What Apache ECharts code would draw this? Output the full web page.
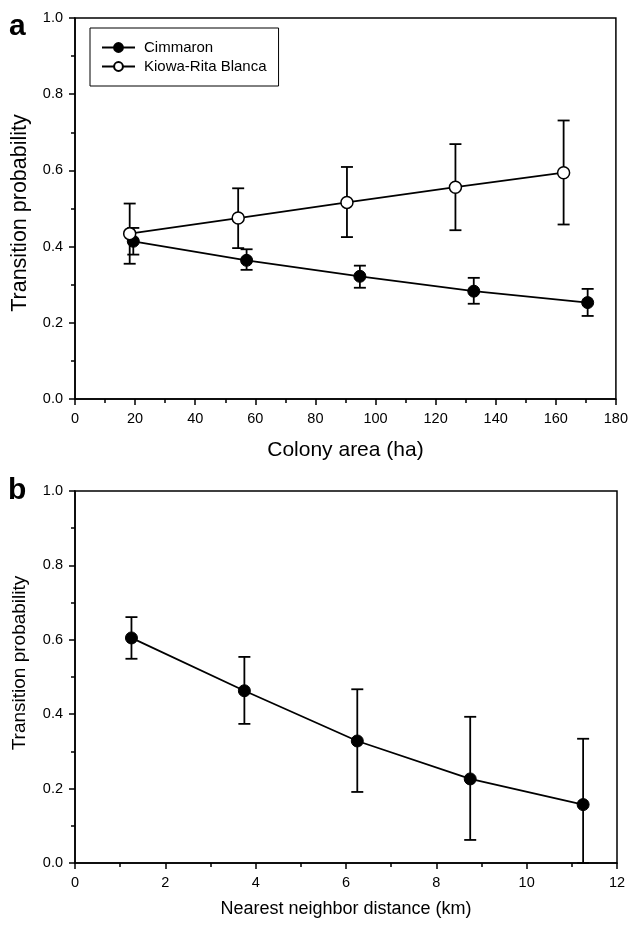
<!DOCTYPE html>
<html>
<head>
<meta charset="utf-8">
<script src="https://cdn.jsdelivr.net/npm/echarts@6/dist/echarts.min.js"></script>
<style>
html,body{margin:0;padding:0;background:#fff;}
#chart{width:631px;height:926px;}
</style>
</head>
<body>
<div id="chart"></div>
<script>
// ---- Panel a data ----
const areaCim = [19.4, 57.1, 94.8, 132.7, 170.6];
const probCim = [0.414, 0.364, 0.322, 0.283, 0.253];
const cimLow = [0.379, 0.339, 0.292, 0.250, 0.218];
const cimHigh = [0.449, 0.393, 0.350, 0.318, 0.289];

const areaKiowa = [18.2, 54.3, 90.5, 126.6, 162.6];
const probKiowa = [0.434, 0.475, 0.516, 0.556, 0.594];
const kiowaLow = [0.355, 0.396, 0.425, 0.443, 0.458];
const kiowaHigh = [0.513, 0.553, 0.609, 0.669, 0.731];

// ---- Panel b data ----
const distance = [1.25, 3.75, 6.25, 8.75, 11.25];
const probDist = [0.605, 0.463, 0.328, 0.226, 0.157];
const distLow = [0.549, 0.374, 0.191, 0.062, 0.0];
const distHigh = [0.661, 0.554, 0.467, 0.393, 0.334];

const seriesNames = ['Cimmaron', 'Kiowa-Rita Blanca'];
const xTitles = ['Colony area (ha)', 'Nearest neighbor distance (km)'];
const yTitle = 'Transition probability';
const panelLetters = ['a', 'b'];

const FONT = '"Liberation Sans", Arial, sans-serif';
const BLACK = '#000';

function pts(xs, ys) { return xs.map((x, i) => [x, ys[i]]); }
function bars(xs, lo, hi) { return xs.map((x, i) => [x, lo[i], hi[i]]); }

function errRender(params, api) {
  const x = api.value(0), lo = api.value(1), hi = api.value(2);
  const pLo = api.coord([x, lo]);
  const pHi = api.coord([x, hi]);
  const hw = 6;
  const st = { stroke: BLACK, lineWidth: 1.8 };
  return {
    type: 'group',
    children: [
      { type: 'line', shape: { x1: pLo[0], y1: pLo[1], x2: pHi[0], y2: pHi[1] }, style: st },
      { type: 'line', shape: { x1: pHi[0] - hw, y1: pHi[1], x2: pHi[0] + hw, y2: pHi[1] }, style: st },
      { type: 'line', shape: { x1: pLo[0] - hw, y1: pLo[1], x2: pLo[0] + hw, y2: pLo[1] }, style: st }
    ]
  };
}

function xAxisCfg(idx, max, interval, name, nameSize, nameGap) {
  return {
    gridIndex: idx, type: 'value', min: 0, max: max, interval: interval,
    axisLine: { show: true, onZero: false, lineStyle: { color: BLACK, width: 1.5 } },
    axisTick: { show: true, inside: false, length: 6, lineStyle: { color: BLACK, width: 1.5 } },
    minorTick: { show: true, splitNumber: 2, length: 4, lineStyle: { color: BLACK, width: 1.5 } },
    splitLine: { show: false },
    axisLabel: { margin: 12, fontSize: 14.5, color: BLACK, fontFamily: FONT },
    name: name, nameLocation: 'middle', nameGap: nameGap,
    nameTextStyle: { fontSize: nameSize, color: BLACK, fontFamily: FONT }
  };
}
function yAxisCfg(idx) {
  return {
    gridIndex: idx, type: 'value', min: 0, max: 1, interval: 0.2,
    axisLine: { show: true, onZero: false, lineStyle: { color: BLACK, width: 1.5 } },
    axisTick: { show: true, inside: false, length: 6, lineStyle: { color: BLACK, width: 1.5 } },
    minorTick: { show: true, splitNumber: 2, length: 4, lineStyle: { color: BLACK, width: 1.5 } },
    splitLine: { show: false },
    axisLabel: { margin: 12, fontSize: 14.5, color: BLACK, fontFamily: FONT, formatter: v => v.toFixed(1) }
  };
}
function vTitle(x, y, size) {
  return {
    type: 'text', x: x, y: y, rotation: Math.PI / 2,
    style: { text: yTitle, fontSize: size, fill: BLACK, fontFamily: FONT,
      align: 'center', verticalAlign: 'middle', textAlign: 'center', textVerticalAlign: 'middle' }
  };
}

const chart = echarts.init(document.getElementById('chart'), null, { renderer: 'canvas' });
chart.setOption({
  backgroundColor: '#fff',
  animation: false,
  grid: [
    { left: 75, top: 18, width: 543, height: 381, show: true, borderColor: BLACK, borderWidth: 1.5 },
    { left: 75, top: 491, width: 542, height: 372, show: true, borderColor: BLACK, borderWidth: 1.5 }
  ],
  xAxis: [
    xAxisCfg(0, 180, 20, xTitles[0], 21, 41),
    xAxisCfg(1, 12, 2, xTitles[1], 18, 37)
  ],
  yAxis: [yAxisCfg(0), yAxisCfg(1)],
  legend: {
    data: seriesNames,
    orient: 'vertical', left: 90, top: 28,
    padding: [11, 12, 11, 11], itemGap: 2,
    itemWidth: 33, itemHeight: 11,
    borderColor: BLACK, borderWidth: 1,
    textStyle: { fontSize: 15, color: BLACK, fontFamily: FONT, lineHeight: 17, padding: [0, 0, 0, 4] }
  },
  graphic: [
    { type: 'text', left: 9, top: 12, style: { text: panelLetters[0], fontSize: 30, fontWeight: 'bold', fill: BLACK, fontFamily: FONT } },
    { type: 'text', left: 8, top: 476, style: { text: panelLetters[1], fontSize: 30, fontWeight: 'bold', fill: BLACK, fontFamily: FONT } },
    vTitle(20, 213, 21.5),
    vTitle(20, 663, 19)
  ],
  series: [
    { type: 'custom', name: 'errCim', xAxisIndex: 0, yAxisIndex: 0, renderItem: errRender,
      data: bars(areaCim, cimLow, cimHigh), encode: { x: 0, y: [1, 2] }, z: 1, silent: true },
    { type: 'custom', name: 'errKiowa', xAxisIndex: 0, yAxisIndex: 0, renderItem: errRender,
      data: bars(areaKiowa, kiowaLow, kiowaHigh), encode: { x: 0, y: [1, 2] }, z: 1, silent: true },
    { type: 'custom', name: 'errDist', xAxisIndex: 1, yAxisIndex: 1, renderItem: errRender,
      data: bars(distance, distLow, distHigh), encode: { x: 0, y: [1, 2] }, z: 1, silent: true },
    { type: 'line', name: seriesNames[0], xAxisIndex: 0, yAxisIndex: 0, data: pts(areaCim, probCim),
      symbol: 'circle', symbolSize: 12, z: 3,
      lineStyle: { color: BLACK, width: 1.8 },
      itemStyle: { color: BLACK, borderColor: BLACK, borderWidth: 1 } },
    { type: 'line', name: seriesNames[1], xAxisIndex: 0, yAxisIndex: 0, data: pts(areaKiowa, probKiowa),
      symbol: 'circle', symbolSize: 12, z: 3,
      lineStyle: { color: BLACK, width: 1.8 },
      itemStyle: { color: '#fff', borderColor: BLACK, borderWidth: 1.5 } },
    { type: 'line', name: 'Nearest neighbor', xAxisIndex: 1, yAxisIndex: 1, data: pts(distance, probDist),
      symbol: 'circle', symbolSize: 12, z: 3,
      lineStyle: { color: BLACK, width: 1.8 },
      itemStyle: { color: BLACK, borderColor: BLACK, borderWidth: 1 } }
  ]
});
</script>
</body>
</html>
